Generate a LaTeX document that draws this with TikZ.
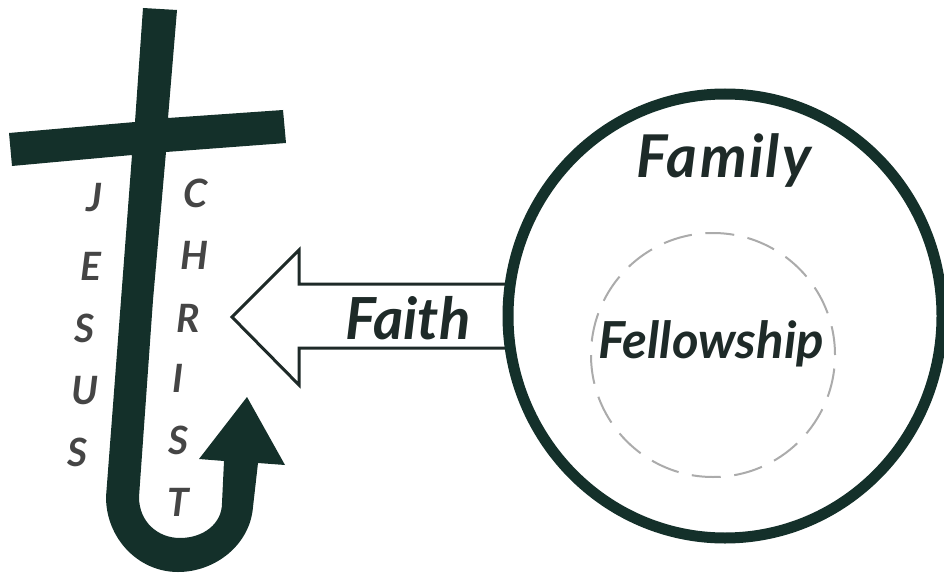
\documentclass[tikz,border=0pt]{standalone}
\usepackage{fontspec}
\usetikzlibrary{shapes.geometric}
\newfontfamily\hand{Lato}[ItalicFont=* Italic,BoldItalicFont=* Bold Italic]
\newfontfamily\handwide{Lato}[ItalicFont=* Italic,BoldItalicFont=* Bold Italic,LetterSpace=4]
\definecolor{dark}{HTML}{14302A}
\definecolor{ink}{HTML}{1E2A28}
\definecolor{lettc}{HTML}{454545}
\tikzset{lett/.style={font=\hand\bfseries\itshape\fontsize{39pt}{39pt}\selectfont,text=lettc,inner sep=0pt},
big/.style={font=\hand\bfseries\itshape\fontsize{58pt}{58pt}\selectfont,text=ink,inner sep=0pt,anchor=base}}
\begin{document}
\begin{tikzpicture}[x=1pt,y=-1pt]
\useasboundingbox (0,0) rectangle (944,575);
\fill[dark] (143,8) -- (177,10) -- (168,118) -- (283,110) -- (286,143) -- (166,152)
 -- (153,300) -- (139,497)
 .. controls (139,522) and (158,538) .. (180,538)
 .. controls (203,538) and (222,524) .. (222,503)
 -- (224,461) -- (199,459) -- (247,397) -- (285,465) -- (258,463) -- (253,507)
 .. controls (250,545) and (215,572) .. (178,572)
 .. controls (138,572) and (106,538) .. (106,497)
 -- (121,300) -- (132,155) -- (12,166) -- (9,133) -- (135,122) -- cycle;
\coordinate (a1) at (508,284); \coordinate (a2) at (508,348);
\draw[line width=3pt,draw=ink,fill=white,line join=miter] (a1) -- (299,284) -- (299,250) -- (232,317) -- (299,385) -- (299,348) -- (a2);
\node[draw=dark,line width=11pt,ellipse,minimum width=434pt,minimum height=444pt,inner sep=0pt] (family) at (725,316) {};
\node[draw=black!33,dash pattern=on 29pt off 13.59pt,line width=2pt,circle,minimum size=244pt,inner sep=0pt] (fellow) at (713,355) {};
\node[big,font=\handwide\bfseries\itshape\fontsize{59pt}{59pt}\selectfont] (t1) at (724,177) {Family};
\node[big,font=\hand\bfseries\itshape\fontsize{51pt}{51pt}\selectfont] (t2) at (711,358) {Fellowship};
\node[big] (t3) at (408,339) {Faith};
\node[lett] (j) at (94,198) {J};
\node[lett] (e) at (91,266) {E};
\node[lett] (s1) at (85,328) {S};
\node[lett] (u) at (85,391) {U};
\node[lett] (s2) at (78,452) {S};
\node[lett] (c) at (196,193) {C};
\node[lett] (h) at (194,255) {H};
\node[lett] (r) at (188,318) {R};
\node[lett] (i) at (178,378) {I};
\node[lett] (s3) at (179,440) {S};
\node[lett] (t) at (178,502) {T};
\end{tikzpicture}
\end{document}
